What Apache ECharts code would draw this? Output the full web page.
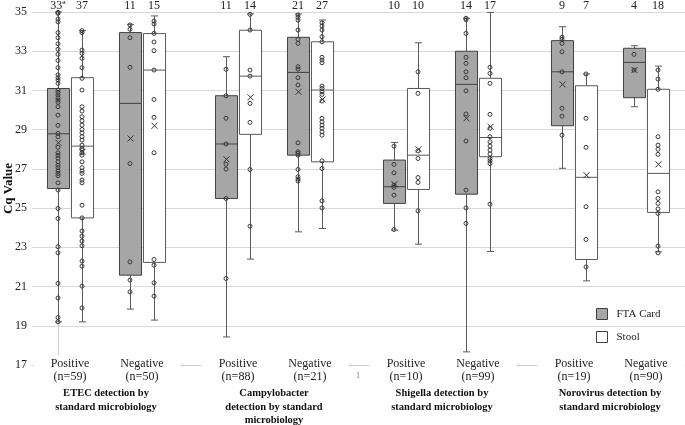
<!DOCTYPE html>
<html><head><meta charset="utf-8">
<script src="https://cdn.jsdelivr.net/npm/echarts@6/dist/echarts.min.js"></script>
<style>html,body{margin:0;padding:0;background:#fff}#c{width:685px;height:425px}</style>
</head><body><div id="c"></div>
<script>
// ---------- data ----------
const groupTitles = ['ETEC detection by\nstandard microbiology', 'Campylobacter\ndetection by standard\nmicrobiology', 'Shigella detection by\nstandard microbiology', 'Norovirus detection by\nstandard microbiology'];
const categoryLabels = ['Positive\n(n=59)', 'Negative\n(n=50)', 'Positive\n(n=88)', 'Negative\n(n=21)', 'Positive\n(n=10)', 'Negative\n(n=99)', 'Positive\n(n=19)', 'Negative\n(n=90)'];
const seriesNames = ['FTA Card', 'Stool'];
const ftaCounts = ['33ª', '11', '11', '21', '10', '14', '9', '4'];
const stoolCounts = ['37', '15', '14', '27', '10', '17', '7', '18'];
const yMin = 17, yMax = 35, yStep = 2;
const yAxisTitle = 'Cq Value';

// [min, q1, median, q3, max]
const ftaBoxes = [
  [19.2, 26.0, 28.79, 31.1, 35.0],
  [19.85, 21.58, 30.34, 33.95, 34.37],
  [18.43, 25.49, 28.27, 30.73, 32.72],
  [23.79, 27.7, 31.92, 33.71, 34.9],
  [23.88, 25.24, 26.09, 27.45, 28.35],
  [17.67, 25.71, 31.31, 33.0, 34.68],
  [27.03, 29.2, 31.95, 33.54, 34.25],
  [30.17, 30.63, 32.43, 33.15, 33.28]
];
const ftaMeans = [28.33, 28.55, 27.49, 30.93, 26.22, 29.58, 31.31, 32.04];
const ftaPoints = [
  [34.98, 34.93, 34.64, 34.5, 33.95, 33.69, 33.38, 33.1, 32.84, 32.53, 32.16, 31.79, 31.65, 31.53, 31.36, 31.02, 30.9, 30.77, 30.63, 30.51, 30.39, 30.17, 29.74, 29.22, 28.81, 28.64, 28.1, 27.82, 27.69, 27.55, 27.36, 27.19, 27.06, 26.9, 26.77, 26.65, 26.29, 25.92, 24.98, 24.47, 23.03, 22.72, 21.16, 20.42, 19.42, 19.2],
  [34.34, 34.12, 33.69, 32.18, 27.27, 22.26, 21.33, 20.73],
  [32.08, 30.73, 29.58, 28.27, 27.24, 26.99, 25.49, 21.41],
  [34.85, 34.73, 34.59, 34.08, 33.61, 33.4, 32.21, 32.09, 31.65, 31.28, 28.33, 27.87, 27.79, 27.7, 26.97, 26.6, 26.48, 26.38],
  [28.16, 27.23, 26.8, 26.17, 26.06, 25.66, 23.91],
  [34.68, 34.6, 33.91, 32.69, 32.38, 31.95, 31.65, 30.98, 29.8, 28.42, 25.92, 25.01, 24.22],
  [33.71, 33.61, 33.4, 32.97, 31.95, 30.09, 29.69, 28.72],
  [32.84, 32.04]
];

const stoolBoxes = [
  [19.2, 24.5, 28.16, 31.65, 34.05],
  [19.29, 22.23, 32.04, 33.9, 34.8],
  [22.4, 28.76, 31.73, 34.07, 34.9],
  [23.96, 27.36, 31.02, 33.48, 34.59],
  [23.16, 25.95, 27.7, 31.1, 33.43],
  [22.79, 27.62, 28.6, 31.62, 34.98],
  [21.29, 22.38, 26.57, 31.24, 31.84],
  [22.77, 24.78, 26.77, 31.06, 32.24]
];
const stoolMeans = [27.87, 29.2, 30.65, 30.54, 28.0, 29.15, 26.68, 27.23];
const stoolPoints = [
  [34.05, 33.95, 33.06, 32.89, 32.64, 32.16, 31.62, 31.02, 30.17, 29.95, 29.66, 29.45, 29.23, 29.01, 28.84, 28.64, 28.47, 28.21, 28.04, 27.96, 27.82, 27.7, 27.36, 27.06, 26.89, 26.77, 26.43, 26.29, 25.15, 24.5, 23.83, 23.57, 23.32, 23.08, 22.3, 22.04, 21.02, 19.91],
  [34.54, 34.39, 33.91, 33.47, 33.03, 32.04, 30.54, 29.63, 27.82, 22.38, 22.09, 21.19, 20.51],
  [34.88, 34.08, 32.04, 31.73, 30.34, 29.37, 26.97, 24.08],
  [34.45, 34.29, 34.08, 33.74, 33.48, 32.69, 32.55, 32.41, 31.22, 31.1, 30.93, 30.8, 30.46, 29.58, 29.4, 29.23, 29.07, 28.89, 28.72, 27.41, 27.02, 25.37, 25.01],
  [31.95, 30.85, 27.92, 27.53, 26.56, 26.31, 24.86],
  [32.18, 31.87, 31.36, 29.78, 29.07, 28.64, 28.38, 28.16, 27.96, 27.76, 27.53, 27.41, 27.27, 25.2],
  [31.84, 29.58, 28.1, 25.07, 23.4, 22.0],
  [32.04, 31.58, 31.06, 28.64, 28.21, 28.0, 27.74, 25.83, 25.49, 25.24, 24.96, 24.73, 23.06, 22.72]
];

// ---------- layout helpers ----------
const SERIF = '"Liberation Serif", "DejaVu Serif", serif';
// slot index on x axis: 4 groups, 2 categories per group, 2 boxes per category
function slotOf(i, s) { return Math.floor(i / 2) * 7 + (i % 2) * 3 + s; }

function boxRows(boxes, means, s) {
  return boxes.map((b, i) => [slotOf(i, s)].concat(b, [means[i]]));
}
function pointRows(points, s) {
  const out = [];
  points.forEach((arr, i) => arr.forEach(v => out.push([slotOf(i, s), v])));
  return out;
}

function makeBoxRender(fill, stroke) {
  return function (params, api) {
    const x = api.value(0);
    const bw = api.size([1, 0])[0] * 0.92;
    const pMin = api.coord([x, api.value(1)]);
    const pQ1 = api.coord([x, api.value(2)]);
    const pMed = api.coord([x, api.value(3)]);
    const pQ3 = api.coord([x, api.value(4)]);
    const pMax = api.coord([x, api.value(5)]);
    const pMean = api.coord([x, api.value(6)]);
    const cx = Math.round(pMin[0]) + 0.5;
    const cap = 3.5, mx = 3;
    const ls = { stroke: '#5a5a5a', lineWidth: 1 };
    return {
      type: 'group',
      children: [
        { type: 'line', shape: { x1: cx, y1: pMax[1], x2: cx, y2: pMin[1] }, style: ls },
        { type: 'line', shape: { x1: cx - cap, y1: pMax[1], x2: cx + cap, y2: pMax[1] }, style: ls },
        { type: 'line', shape: { x1: cx - cap, y1: pMin[1], x2: cx + cap, y2: pMin[1] }, style: ls },
        { type: 'rect', shape: { x: cx - bw / 2, y: pQ3[1], width: bw, height: pQ1[1] - pQ3[1] }, style: { fill: fill, stroke: stroke, lineWidth: 1 } },
        { type: 'line', shape: { x1: cx - bw / 2, y1: pMed[1], x2: cx + bw / 2, y2: pMed[1] }, style: { stroke: stroke, lineWidth: 1 } },
        { type: 'line', shape: { x1: cx - mx, y1: pMean[1] - mx, x2: cx + mx, y2: pMean[1] + mx }, style: { stroke: '#333', lineWidth: 1 } },
        { type: 'line', shape: { x1: cx - mx, y1: pMean[1] + mx, x2: cx + mx, y2: pMean[1] - mx }, style: { stroke: '#333', lineWidth: 1 } }
      ]
    };
  };
}

function labelRender(params, api) {
  const i = params.dataIndex;
  const g = Math.floor(i / 2);
  const p0 = api.coord([slotOf(i, 0), yMax]);
  const p1 = api.coord([slotOf(i, 1), yMax]);
  const pc = api.coord([slotOf(i, 0) + 0.5, yMin]);
  const children = [
    { type: 'text', style: { text: ftaCounts[i], x: p0[0], y: p0[1] - 6, align: 'center', verticalAlign: 'middle', font: '12px ' + SERIF, fill: '#222' } },
    { type: 'text', style: { text: stoolCounts[i], x: p1[0], y: p1[1] - 6, align: 'center', verticalAlign: 'middle', font: '12px ' + SERIF, fill: '#222' } },
    { type: 'text', z2: 10, style: { text: categoryLabels[i], x: pc[0], y: pc[1] - 10, align: 'center', verticalAlign: 'top', font: '12px ' + SERIF, lineHeight: 13, fill: '#222', backgroundColor: '#fff', padding: [2, 17, 0, 17] } }
  ];
  if (i % 2 === 0) {
    const pg = api.coord([g * 7 + 2, yMin]);
    children.push({ type: 'text', style: { text: groupTitles[g], x: pg[0], y: pg[1] + 22, align: 'center', verticalAlign: 'top', font: 'bold 10.5px ' + SERIF, lineHeight: 13.5, fill: '#111' } });
  }
  return { type: 'group', children: children };
}

const chart = echarts.init(document.getElementById('c'), null, { renderer: 'canvas' });
chart.setOption({
  animation: false,
  backgroundColor: '#fff',
  grid: { left: 32, right: 0, top: 12, bottom: 60, containLabel: false, outerBoundsMode: 'none' },
  xAxis: {
    type: 'value', min: -26 / 24, max: 627 / 24,
    axisLine: { show: true, lineStyle: { color: '#cfcfcf', width: 1 } },
    axisTick: { show: false }, axisLabel: { show: false }, splitLine: { show: false }
  },
  yAxis: {
    type: 'value', min: yMin, max: yMax, interval: yStep,
    axisLine: { show: true, lineStyle: { color: '#cfcfcf', width: 1 } },
    axisTick: { show: false },
    axisLabel: { fontFamily: SERIF, fontSize: 12, color: '#222', margin: 5 },
    splitLine: { show: true, lineStyle: { color: '#d9d9d9', width: 1 } },
    name: yAxisTitle, nameLocation: 'middle', nameGap: 17, nameMoveOverlap: false,
    nameTextStyle: { fontFamily: SERIF, fontWeight: 'bold', fontSize: 13, color: '#111' }
  },
  legend: {
    data: seriesNames, orient: 'vertical', left: 591, top: 302,
    itemWidth: 11, itemHeight: 11, itemGap: 9, icon: 'rect',
    textStyle: { fontFamily: SERIF, fontSize: 11, color: '#222', lineHeight: 14, padding: [0, 0, 0, 4] },
    itemStyle: { borderColor: '#404040', borderWidth: 1 }
  },
  graphic: [
    { type: 'text', left: 356, top: 372, style: { text: '1', font: '8px ' + SERIF, fill: '#777' } }
  ],
  series: [
    { name: seriesNames[0], type: 'custom', renderItem: makeBoxRender('#a6a6a6', '#404040'), itemStyle: { color: '#a6a6a6' },
      encode: { x: 0, y: [1, 2, 3, 4, 5] }, data: boxRows(ftaBoxes, ftaMeans, 0), z: 2 },
    { name: seriesNames[1], type: 'custom', renderItem: makeBoxRender('#ffffff', '#595959'), itemStyle: { color: '#ffffff' },
      encode: { x: 0, y: [1, 2, 3, 4, 5] }, data: boxRows(stoolBoxes, stoolMeans, 1), z: 2 },
    { name: 'FTA points', type: 'scatter', symbol: 'circle', symbolSize: 4,
      itemStyle: { color: 'rgba(0,0,0,0)', borderColor: '#3a3a3a', borderWidth: 1, opacity: 1 }, data: pointRows(ftaPoints, 0), z: 3 },
    { name: 'Stool points', type: 'scatter', symbol: 'circle', symbolSize: 4,
      itemStyle: { color: 'rgba(0,0,0,0)', borderColor: '#3a3a3a', borderWidth: 1, opacity: 1 }, data: pointRows(stoolPoints, 1), z: 3 },
    { name: 'labels', type: 'custom', renderItem: labelRender, clip: false, silent: true,
      encode: { x: 0, y: 1 }, data: categoryLabels.map((c, i) => [slotOf(i, 0) + 0.5, yMin]), z: 5 }
  ]
});
</script>
</body></html>
